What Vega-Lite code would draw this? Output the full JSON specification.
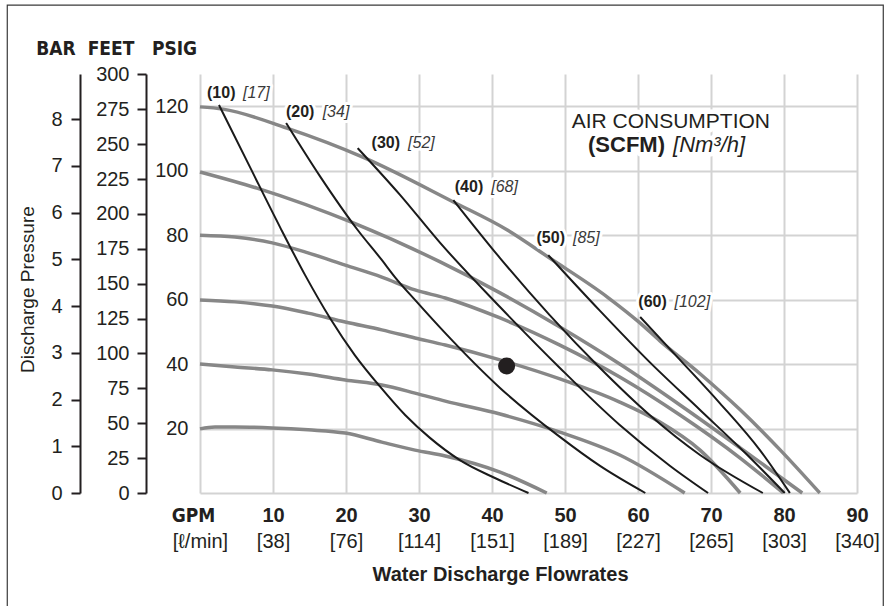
{
  "$schema": "https://vega.github.io/schema/vega-lite/v6.json",
  "width": 657,
  "height": 419,
  "autosize": "none",
  "padding": {"left": 200, "top": 74, "right": 35, "bottom": 113},
  "background": "white",
  "config": {"view": {"stroke": null}, "font": "Liberation Sans", "axis": {"labelColor": "#231f20", "titleColor": "#231f20", "labelFlush": false, "labelOverlap": false}},
  "datasets": {
    "curves": [
      {"s": "g120", "gpm": 0, "psi": 119.8}, {"s": "g120", "gpm": 3.15, "psi": 119.1}, {"s": "g120", "gpm": 11.9, "psi": 113.2}, {"s": "g120", "gpm": 22.3, "psi": 104.2}, {"s": "g120", "gpm": 34.7, "psi": 90.3}, {"s": "g120", "gpm": 42.1, "psi": 81.6}, {"s": "g120", "gpm": 47.9, "psi": 72.9}, {"s": "g120", "gpm": 55.8, "psi": 60.8}, {"s": "g120", "gpm": 60.3, "psi": 52.7}, {"s": "g120", "gpm": 63.0, "psi": 47.2}, {"s": "g120", "gpm": 68.5, "psi": 37.0}, {"s": "g120", "gpm": 74.0, "psi": 25.8}, {"s": "g120", "gpm": 79.5, "psi": 13.3}, {"s": "g120", "gpm": 84.9, "psi": 0},
      {"s": "g100", "gpm": 0, "psi": 99.6}, {"s": "g100", "gpm": 7.8, "psi": 94.6}, {"s": "g100", "gpm": 21.0, "psi": 83.8}, {"s": "g100", "gpm": 32.9, "psi": 71.7}, {"s": "g100", "gpm": 41.1, "psi": 62.1}, {"s": "g100", "gpm": 49.3, "psi": 51.5}, {"s": "g100", "gpm": 57.5, "psi": 40.0}, {"s": "g100", "gpm": 65.75, "psi": 27.3}, {"s": "g100", "gpm": 74.0, "psi": 14.0}, {"s": "g100", "gpm": 82.5, "psi": 0},
      {"s": "g80", "gpm": 0, "psi": 80.0}, {"s": "g80", "gpm": 4.8, "psi": 79.4}, {"s": "g80", "gpm": 9.9, "psi": 77.6}, {"s": "g80", "gpm": 14.8, "psi": 74.5}, {"s": "g80", "gpm": 19.9, "psi": 70.7}, {"s": "g80", "gpm": 24.9, "psi": 67.0}, {"s": "g80", "gpm": 29.45, "psi": 63.0}, {"s": "g80", "gpm": 33.6, "psi": 60.5}, {"s": "g80", "gpm": 41.1, "psi": 54.3}, {"s": "g80", "gpm": 49.3, "psi": 45.9}, {"s": "g80", "gpm": 57.5, "psi": 36.0}, {"s": "g80", "gpm": 65.75, "psi": 24.2}, {"s": "g80", "gpm": 74.0, "psi": 10.85}, {"s": "g80", "gpm": 79.9, "psi": 0},
      {"s": "g60", "gpm": 0, "psi": 59.9}, {"s": "g60", "gpm": 4.8, "psi": 59.3}, {"s": "g60", "gpm": 9.9, "psi": 58.0}, {"s": "g60", "gpm": 14.8, "psi": 55.8}, {"s": "g60", "gpm": 19.9, "psi": 53.05}, {"s": "g60", "gpm": 24.9, "psi": 50.6}, {"s": "g60", "gpm": 29.45, "psi": 48.1}, {"s": "g60", "gpm": 33.6, "psi": 45.9}, {"s": "g60", "gpm": 41.1, "psi": 41.3}, {"s": "g60", "gpm": 49.3, "psi": 35.4}, {"s": "g60", "gpm": 57.5, "psi": 28.2}, {"s": "g60", "gpm": 63.0, "psi": 22.0}, {"s": "g60", "gpm": 68.5, "psi": 13.3}, {"s": "g60", "gpm": 74.0, "psi": 0},
      {"s": "g40", "gpm": 0, "psi": 40.0}, {"s": "g40", "gpm": 4.8, "psi": 39.1}, {"s": "g40", "gpm": 9.9, "psi": 38.2}, {"s": "g40", "gpm": 14.8, "psi": 36.9}, {"s": "g40", "gpm": 19.9, "psi": 35.05}, {"s": "g40", "gpm": 24.9, "psi": 33.5}, {"s": "g40", "gpm": 29.45, "psi": 31.0}, {"s": "g40", "gpm": 33.6, "psi": 28.5}, {"s": "g40", "gpm": 41.1, "psi": 24.5}, {"s": "g40", "gpm": 49.3, "psi": 18.9}, {"s": "g40", "gpm": 57.5, "psi": 11.8}, {"s": "g40", "gpm": 66.4, "psi": 0},
      {"s": "g20", "gpm": 0, "psi": 19.9}, {"s": "g20", "gpm": 2.05, "psi": 20.5}, {"s": "g20", "gpm": 4.8, "psi": 20.5}, {"s": "g20", "gpm": 9.9, "psi": 20.2}, {"s": "g20", "gpm": 14.8, "psi": 19.6}, {"s": "g20", "gpm": 19.9, "psi": 18.6}, {"s": "g20", "gpm": 24.9, "psi": 15.8}, {"s": "g20", "gpm": 29.45, "psi": 13.3}, {"s": "g20", "gpm": 33.6, "psi": 11.5}, {"s": "g20", "gpm": 41.1, "psi": 6.5}, {"s": "g20", "gpm": 47.5, "psi": 0}
    ],
    "scfm": [
      {"s": "b10", "gpm": 2.6, "psi": 120.4}, {"s": "b10", "gpm": 6.85, "psi": 101.1}, {"s": "b10", "gpm": 10.96, "psi": 82.5}, {"s": "b10", "gpm": 14.4, "psi": 67.6}, {"s": "b10", "gpm": 17.8, "psi": 54.3}, {"s": "b10", "gpm": 21.2, "psi": 42.8}, {"s": "b10", "gpm": 24.7, "psi": 32.9}, {"s": "b10", "gpm": 28.1, "psi": 24.2}, {"s": "b10", "gpm": 31.5, "psi": 17.1}, {"s": "b10", "gpm": 35.6, "psi": 10.2}, {"s": "b10", "gpm": 40.4, "psi": 4.65}, {"s": "b10", "gpm": 45.0, "psi": 0},
      {"s": "b20", "gpm": 11.8, "psi": 114.8}, {"s": "b20", "gpm": 16.4, "psi": 98.4}, {"s": "b20", "gpm": 21.6, "psi": 81.6}, {"s": "b20", "gpm": 24.9, "psi": 72.3}, {"s": "b20", "gpm": 26.7, "psi": 67.0}, {"s": "b20", "gpm": 29.45, "psi": 59.9}, {"s": "b20", "gpm": 33.6, "psi": 49.6}, {"s": "b20", "gpm": 41.1, "psi": 32.6}, {"s": "b20", "gpm": 49.3, "psi": 17.4}, {"s": "b20", "gpm": 54.8, "psi": 8.4}, {"s": "b20", "gpm": 61.0, "psi": 0},
      {"s": "b30", "gpm": 21.6, "psi": 107.0}, {"s": "b30", "gpm": 27.4, "psi": 92.5}, {"s": "b30", "gpm": 32.9, "psi": 77.6}, {"s": "b30", "gpm": 41.1, "psi": 57.7}, {"s": "b30", "gpm": 49.3, "psi": 38.8}, {"s": "b30", "gpm": 57.5, "psi": 21.1}, {"s": "b30", "gpm": 64.4, "psi": 8.4}, {"s": "b30", "gpm": 69.6, "psi": 0},
      {"s": "b40", "gpm": 34.7, "psi": 90.9}, {"s": "b40", "gpm": 41.1, "psi": 72.9}, {"s": "b40", "gpm": 47.9, "psi": 55.2}, {"s": "b40", "gpm": 54.8, "psi": 38.8}, {"s": "b40", "gpm": 61.6, "psi": 24.2}, {"s": "b40", "gpm": 68.5, "psi": 11.8}, {"s": "b40", "gpm": 77.1, "psi": 0},
      {"s": "b50", "gpm": 47.7, "psi": 73.8}, {"s": "b50", "gpm": 54.8, "psi": 56.5}, {"s": "b50", "gpm": 61.6, "psi": 40.6}, {"s": "b50", "gpm": 68.5, "psi": 25.75}, {"s": "b50", "gpm": 74.7, "psi": 12.4}, {"s": "b50", "gpm": 80.1, "psi": 0},
      {"s": "b60", "gpm": 60.3, "psi": 54.6}, {"s": "b60", "gpm": 65.75, "psi": 41.3}, {"s": "b60", "gpm": 71.2, "psi": 27.9}, {"s": "b60", "gpm": 76.7, "psi": 13.3}, {"s": "b60", "gpm": 80.8, "psi": 0}
    ],
    "labels": [
      {"t": "(10)", "w": "b", "gpm": 0.96, "psi": 124.1}, {"t": "[17]", "w": "i", "gpm": 5.89, "psi": 124.1},
      {"t": "(20)", "w": "b", "gpm": 11.78, "psi": 118.3}, {"t": "[34]", "w": "i", "gpm": 16.8, "psi": 118.3},
      {"t": "(30)", "w": "b", "gpm": 23.5, "psi": 108.5}, {"t": "[52]", "w": "i", "gpm": 28.5, "psi": 108.5},
      {"t": "(40)", "w": "b", "gpm": 34.9, "psi": 95.0}, {"t": "[68]", "w": "i", "gpm": 39.9, "psi": 95.0},
      {"t": "(50)", "w": "b", "gpm": 46.1, "psi": 79.0}, {"t": "[85]", "w": "i", "gpm": 51.1, "psi": 79.0},
      {"t": "(60)", "w": "b", "gpm": 60.05, "psi": 59.3}, {"t": "[102]", "w": "i", "gpm": 65.0, "psi": 59.3}
    ]
  },
  "resolve": {"scale": {"x": "independent", "y": "independent"}},
  "layer": [
    {
      "layer": [
        {
          "data": {"name": "curves"},
          "mark": {"type": "line", "color": "#878787", "strokeWidth": 3.5, "interpolate": "monotone"},
          "encoding": {
            "x": {"field": "gpm", "type": "quantitative", "scale": {"domain": [0, 90], "nice": false, "zero": false},
              "axis": {"title": null, "values": [0, 5, 10, 15, 20, 25, 30, 35, 40, 45, 50, 55, 60, 65, 70, 75, 80, 85, 90], "grid": true, "gridColor": "#d3d3d3", "gridWidth": 2, "domain": false, "ticks": false,
                "labelExpr": "datum.value == 0 ? 'GPM' : (datum.value % 10 == 0 ? datum.label : '')",
                "labelFont": {"condition": {"test": "datum.value == 0", "value": "DejaVu Sans Condensed"}, "value": "Liberation Sans"},
                "labelFontSize": {"condition": {"test": "datum.value == 0", "value": 19}, "value": 20},
                "labelOffset": {"condition": {"test": "datum.value == 0", "value": -7}, "value": 0},
                "labelFontWeight": "bold", "labelBaseline": "middle", "labelPadding": 22}},
            "y": {"field": "psi", "type": "quantitative", "scale": {"domain": [0, 130], "nice": false, "zero": false},
              "axis": {"values": [0, 10, 20, 30, 40, 50, 60, 70, 80, 90, 100, 110, 120, 130], "grid": true, "gridColor": "#d3d3d3", "gridWidth": 2, "domain": false, "ticks": false,
                "labelExpr": "(datum.value >= 20 && datum.value <= 120 && datum.value % 20 == 0) ? datum.label : ''",
                "labelFontSize": 20, "labelPadding": 12,
                "title": "PSIG", "titleAngle": 0, "titleX": -26, "titleY": -20, "titleAlign": "center", "titleBaseline": "alphabetic", "titleFont": "DejaVu Sans Condensed", "titleFontWeight": "bold", "titleFontSize": 19}},
            "detail": {"field": "s"}
          }
        },
        {
          "data": {"name": "scfm"},
          "mark": {"type": "line", "color": "#1a1a1a", "strokeWidth": 2, "interpolate": "monotone"},
          "encoding": {
            "x": {"field": "gpm", "type": "quantitative"},
            "y": {"field": "psi", "type": "quantitative"},
            "detail": {"field": "s"}
          }
        },
        {
          "data": {"values": [{"gpm": 42.0, "psi": 39.4}]},
          "mark": {"type": "point", "filled": true, "color": "#231f20", "opacity": 1, "size": 290},
          "encoding": {"x": {"field": "gpm", "type": "quantitative"}, "y": {"field": "psi", "type": "quantitative"}}
        },
        {
          "data": {"name": "labels"},
          "transform": [{"filter": "datum.w == 'b'"}],
          "mark": {"type": "text", "align": "left", "baseline": "middle", "fontWeight": "bold", "fontSize": 16, "color": "#231f20", "stroke": "white", "strokeWidth": 6, "strokeJoin": "round"},
          "encoding": {"x": {"field": "gpm", "type": "quantitative"}, "y": {"field": "psi", "type": "quantitative"}, "text": {"field": "t"}}
        },
        {
          "data": {"name": "labels"},
          "transform": [{"filter": "datum.w == 'i'"}],
          "mark": {"type": "text", "align": "left", "baseline": "middle", "fontStyle": "italic", "fontSize": 16, "color": "#231f20", "stroke": "white", "strokeWidth": 6, "strokeJoin": "round"},
          "encoding": {"x": {"field": "gpm", "type": "quantitative"}, "y": {"field": "psi", "type": "quantitative"}, "text": {"field": "t"}}
        },
        {
          "data": {"name": "labels"},
          "transform": [{"filter": "datum.w == 'b'"}],
          "mark": {"type": "text", "align": "left", "baseline": "middle", "fontWeight": "bold", "fontSize": 16, "color": "#231f20"},
          "encoding": {"x": {"field": "gpm", "type": "quantitative"}, "y": {"field": "psi", "type": "quantitative"}, "text": {"field": "t"}}
        },
        {
          "data": {"name": "labels"},
          "transform": [{"filter": "datum.w == 'i'"}],
          "mark": {"type": "text", "align": "left", "baseline": "middle", "fontStyle": "italic", "fontSize": 16, "color": "#3a3a3a"},
          "encoding": {"x": {"field": "gpm", "type": "quantitative"}, "y": {"field": "psi", "type": "quantitative"}, "text": {"field": "t"}}
        },
        {
          "data": {"values": [
            {"t": "AIR CONSUMPTION", "gpm": 64.5, "psi": 115.1, "a": "center"},
            {"t": "(SCFM)", "gpm": 63.7, "psi": 108.0, "a": "right"},
            {"t": "[Nm³/h]", "gpm": 64.8, "psi": 108.0, "a": "left"}
          ]},
          "layer": [
            {"transform": [{"filter": "datum.a == 'center'"}], "mark": {"type": "text", "align": "center", "baseline": "middle", "fontSize": 21, "color": "#231f20", "stroke": "white", "strokeWidth": 9, "strokeJoin": "round"}},
            {"transform": [{"filter": "datum.a == 'right'"}], "mark": {"type": "text", "align": "right", "baseline": "middle", "fontSize": 22, "fontWeight": "bold", "color": "#231f20", "stroke": "white", "strokeWidth": 9, "strokeJoin": "round"}},
            {"transform": [{"filter": "datum.a == 'left'"}], "mark": {"type": "text", "align": "left", "baseline": "middle", "fontSize": 22, "fontStyle": "italic", "color": "#231f20", "stroke": "white", "strokeWidth": 9, "strokeJoin": "round"}},
            {"transform": [{"filter": "datum.a == 'center'"}], "mark": {"type": "text", "align": "center", "baseline": "middle", "fontSize": 21, "color": "#231f20"}},
            {"transform": [{"filter": "datum.a == 'right'"}], "mark": {"type": "text", "align": "right", "baseline": "middle", "fontSize": 22, "fontWeight": "bold", "color": "#231f20"}},
            {"transform": [{"filter": "datum.a == 'left'"}], "mark": {"type": "text", "align": "left", "baseline": "middle", "fontSize": 22, "fontStyle": "italic", "color": "#231f20"}}
          ],
          "encoding": {"x": {"field": "gpm", "type": "quantitative"}, "y": {"field": "psi", "type": "quantitative"}, "text": {"field": "t"}}
        },
        {
          "data": {"values": [{"t": "Discharge Pressure", "gpm": -23.56, "psi": 63.1}]},
          "mark": {"type": "text", "angle": 270, "align": "center", "baseline": "middle", "fontSize": 19, "color": "#231f20", "clip": false},
          "encoding": {"x": {"field": "gpm", "type": "quantitative"}, "y": {"field": "psi", "type": "quantitative"}, "text": {"field": "t"}}
        },
        {
          "data": {"values": [{"gpm": -26.4, "gpm2": 93.6, "psi": 151.4, "psi2": -40}]},
          "mark": {"type": "rect", "fillOpacity": 0, "stroke": "#3a3a3a", "strokeWidth": 1.2, "clip": false},
          "encoding": {"x": {"field": "gpm", "type": "quantitative"}, "x2": {"field": "gpm2"}, "y": {"field": "psi", "type": "quantitative"}, "y2": {"field": "psi2"}}
        }
      ]
    },
    {
      "data": {"values": [{"gpm": 0}]},
      "mark": {"type": "point", "opacity": 0},
      "encoding": {
        "x": {"field": "gpm", "type": "quantitative", "scale": {"domain": [0, 90], "nice": false, "zero": false},
          "axis": {"orient": "bottom", "values": [0, 10, 20, 30, 40, 50, 60, 70, 80, 90], "domain": false, "ticks": false, "grid": false,
            "labelExpr": "['[ℓ/min]','[38]','[76]','[114]','[151]','[189]','[227]','[265]','[303]','[340]'][round(datum.value/10)]",
            "labelFontSize": 20, "labelBaseline": "middle", "labelPadding": 48,
            "title": "Water Discharge Flowrates", "titleX": 300, "titleY": 87, "titleAlign": "center", "titleBaseline": "alphabetic", "titleFontWeight": "bold", "titleFontSize": 20}}
      }
    },
    {
      "data": {"values": [{"ft": 0}]},
      "mark": {"type": "point", "opacity": 0},
      "encoding": {
        "y": {"field": "ft", "type": "quantitative", "scale": {"domain": [0, 300.3], "nice": false, "zero": false},
          "axis": {"orient": "left", "offset": 54, "values": [0, 25, 50, 75, 100, 125, 150, 175, 200, 225, 250, 275, 300], "grid": false, "domainColor": "#231f20", "domainWidth": 2, "tickColor": "#231f20", "tickWidth": 2, "tickSize": 9, "labelPadding": 8, "labelFontSize": 20,
            "title": "FEET", "titleAngle": 0, "titleX": -35.5, "titleY": -20, "titleAlign": "center", "titleBaseline": "alphabetic", "titleFont": "DejaVu Sans Condensed", "titleFontWeight": "bold", "titleFontSize": 19}}
      }
    },
    {
      "data": {"values": [{"bar": 0}]},
      "mark": {"type": "point", "opacity": 0},
      "encoding": {
        "y": {"field": "bar", "type": "quantitative", "scale": {"domain": [0, 8.963], "nice": false, "zero": false},
          "axis": {"orient": "left", "offset": 120, "values": [0, 1, 2, 3, 4, 5, 6, 7, 8], "grid": false, "domainColor": "#231f20", "domainWidth": 2, "tickColor": "#231f20", "tickWidth": 2, "tickSize": 9, "labelPadding": 9, "labelFontSize": 20,
            "title": "BAR", "titleAngle": 0, "titleX": -24.5, "titleY": -20, "titleAlign": "center", "titleBaseline": "alphabetic", "titleFont": "DejaVu Sans Condensed", "titleFontWeight": "bold", "titleFontSize": 19}}
      }
    }
  ]
}
